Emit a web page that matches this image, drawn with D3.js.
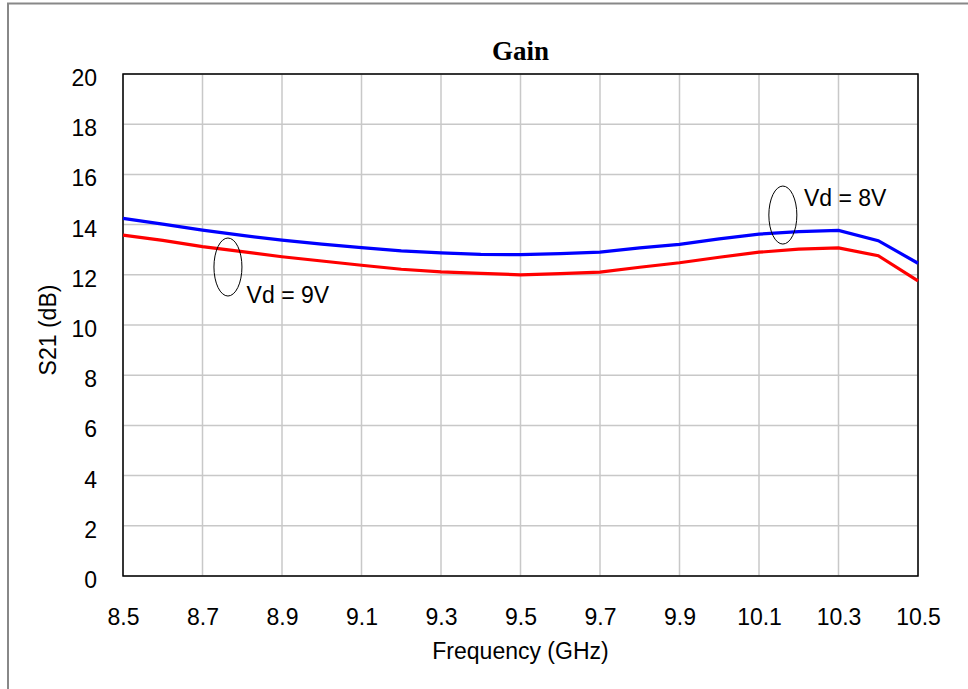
<!DOCTYPE html>
<html>
<head>
<meta charset="utf-8">
<script src="https://cdn.jsdelivr.net/npm/d3@7"></script>
<style>
  body { margin: 0; background: #fff; }
  text { font-family: "Liberation Sans", Arial, sans-serif; }
</style>
</head>
<body>
<div id="chart"></div>
<script>
// frequency points (GHz)
const freq = [8.5, 8.6, 8.7, 8.8, 8.9, 9.0, 9.1, 9.2, 9.3, 9.4, 9.5,
              9.6, 9.7, 9.8, 9.9, 10.0, 10.1, 10.2, 10.3, 10.4, 10.5];
// S21 for Vd = 8V (blue)
const gain8V = [14.25, 14.02, 13.78, 13.57, 13.38, 13.22, 13.08, 12.95, 12.87, 12.81, 12.80,
                12.84, 12.90, 13.07, 13.21, 13.43, 13.62, 13.72, 13.77, 13.36, 12.46];
// S21 for Vd = 9V (red)
const gain9V = [13.58, 13.37, 13.12, 12.92, 12.72, 12.55, 12.38, 12.22, 12.12, 12.06, 12.00,
                12.05, 12.11, 12.30, 12.48, 12.70, 12.90, 13.02, 13.07, 12.76, 11.76];

const xTicks = [8.5, 8.7, 8.9, 9.1, 9.3, 9.5, 9.7, 9.9, 10.1, 10.3, 10.5];
const yTicks = [0, 2, 4, 6, 8, 10, 12, 14, 16, 18, 20];

// annotations: ellipse centre and label anchor in data units
const notes = [
  { label: "Vd = 9V", ex: 8.764, ey: 12.31, tx: 8.811, ty: 10.88 },
  { label: "Vd = 8V", ex: 10.16, ey: 14.38, tx: 10.213, ty: 14.74 }
];

const W = 968, H = 689;
const svg = d3.select("#chart").append("svg")
  .attr("width", W).attr("height", H);

// outer frame (only top and left visible)
svg.append("rect")
  .attr("x", 8).attr("y", 3.5)
  .attr("width", W).attr("height", H)
  .attr("fill", "none")
  .attr("stroke", "#888")
  .attr("stroke-width", 2);

const x = d3.scaleLinear().domain([8.5, 10.5]).range([123, 918]);
const y = d3.scaleLinear().domain([0, 20]).range([576, 74]);

// grid
svg.append("g").selectAll("line").data(xTicks).join("line")
  .attr("x1", d => x(d)).attr("x2", d => x(d))
  .attr("y1", y(0)).attr("y2", y(20))
  .attr("stroke", "#c8c8c8").attr("stroke-width", 1.5);
svg.append("g").selectAll("line").data(yTicks).join("line")
  .attr("x1", x(8.5)).attr("x2", x(10.5))
  .attr("y1", d => y(d)).attr("y2", d => y(d))
  .attr("stroke", "#c8c8c8").attr("stroke-width", 1.5);

// plot border
svg.append("rect")
  .attr("x", x(8.5)).attr("y", y(20))
  .attr("width", x(10.5) - x(8.5)).attr("height", y(0) - y(20))
  .attr("fill", "none").attr("stroke", "#000").attr("stroke-width", 1.5);

// axes
const xAxis = svg.append("g")
  .attr("transform", "translate(0," + y(0) + ")")
  .call(d3.axisBottom(x).tickValues(xTicks).tickSize(0).tickPadding(33)
    .tickFormat(d3.format(".1f")));
const yAxis = svg.append("g")
  .attr("transform", "translate(" + x(8.5) + ",0)")
  .call(d3.axisLeft(y).tickValues(yTicks).tickSize(0).tickPadding(26));
[xAxis, yAxis].forEach(g => {
  g.select(".domain").remove();
  g.selectAll("text")
    .attr("font-family", "Liberation Sans, Arial, sans-serif")
    .attr("font-size", 23)
    .attr("fill", "#000");
});
yAxis.selectAll("text").attr("dy", "0.5em");

// lines
const line = d3.line().x((d, i) => x(freq[i])).y(d => y(d));
svg.append("path").datum(gain8V)
  .attr("d", line).attr("fill", "none")
  .attr("stroke", "#0000ff").attr("stroke-width", 3.2);
svg.append("path").datum(gain9V)
  .attr("d", line).attr("fill", "none")
  .attr("stroke", "#ff0000").attr("stroke-width", 3.2);

// annotations
notes.forEach(n => {
  svg.append("ellipse")
    .attr("cx", x(n.ex)).attr("cy", y(n.ey))
    .attr("rx", 14).attr("ry", 29)
    .attr("fill", "none").attr("stroke", "#000").attr("stroke-width", 1);
  svg.append("text")
    .attr("x", x(n.tx)).attr("y", y(n.ty))
    .attr("font-size", 23)
    .text(n.label);
});

// titles
svg.append("text")
  .attr("x", 520.5).attr("y", 60)
  .attr("text-anchor", "middle")
  .style("font-family", "'Liberation Serif', 'Times New Roman', serif")
  .attr("font-weight", "bold")
  .attr("font-size", 27)
  .text("Gain");
svg.append("text")
  .attr("x", 520.5).attr("y", 659)
  .attr("text-anchor", "middle")
  .attr("font-size", 23)
  .text("Frequency (GHz)");
svg.append("text")
  .attr("transform", "translate(56,330) rotate(-90)")
  .attr("text-anchor", "middle")
  .attr("font-size", 23)
  .text("S21 (dB)");
</script>
</body>
</html>
